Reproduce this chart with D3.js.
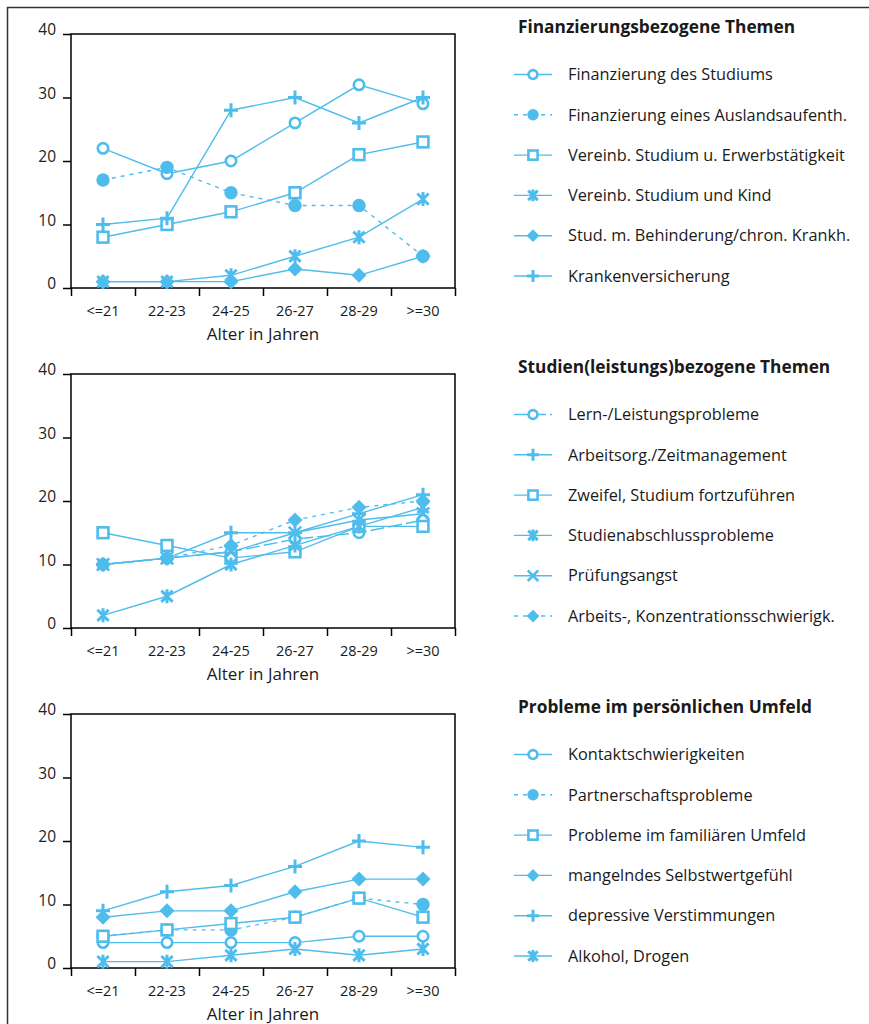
<!DOCTYPE html>
<html>
<head>
<meta charset="utf-8">
<script src="https://cdn.jsdelivr.net/npm/d3@7"></script>
<style>
  body { margin: 0; background: #fff; }
  text { font-family: "Open Sans", sans-serif; fill: #1a1a1a; }
</style>
</head>
<body>
<div id="chart"></div>
<script>
// categories and ticks
const ageGroups = ["<=21", "22-23", "24-25", "26-27", "28-29", ">=30"];
const yTicks = [0, 10, 20, 30, 40];
const xTitle = "Alter in Jahren";

// panel 1: Finanzierungsbezogene Themen
const finStudium = [22, 18, 20, 26, 32, 29];
const finAusland = [17, 19, 15, 13, 13, 5];
const vereinbErwerb = [8, 10, 12, 15, 21, 23];
const vereinbKind = [1, 1, 2, 5, 8, 14];
const behinderung = [1, 1, 1, 3, 2, 5];
const krankenvers = [10, 11, 28, 30, 26, 30];

// panel 2: Studien(leistungs)bezogene Themen
const lernProbleme = [10, 11, 12, 14, 15, 17];
const zeitmanagement = [10, 11, 15, 15, 18, 21];
const zweifel = [15, 13, 11, 12, 16, 16];
const abschluss = [2, 5, 10, 13, 16, 19];
const pruefungsangst = [10, 11, 12, 15, 17, 18];
const konzentration = [10, 11, 13, 17, 19, 20];

// panel 3: Probleme im persönlichen Umfeld
const kontakt = [4, 4, 4, 4, 5, 5];
const partnerschaft = [5, 6, 6, 8, 11, 10];
const familie = [5, 6, 7, 8, 11, 8];
const selbstwert = [8, 9, 9, 12, 14, 14];
const depressiv = [9, 12, 13, 16, 20, 19];
const alkohol = [1, 1, 2, 3, 2, 3];

const panels = [
  {title: "Finanzierungsbezogene Themen", series: [
    {name: "Finanzierung des Studiums", values: finStudium, sym: "circle", dash: null},
    {name: "Finanzierung eines Auslandsaufenth.", values: finAusland, sym: "dot", dash: "4,5"},
    {name: "Vereinb. Studium u. Erwerbstätigkeit", values: vereinbErwerb, sym: "square", dash: null},
    {name: "Vereinb. Studium und Kind", values: vereinbKind, sym: "asterisk", dash: null},
    {name: "Stud. m. Behinderung/chron. Krankh.", values: behinderung, sym: "diamond", dash: null},
    {name: "Krankenversicherung", values: krankenvers, sym: "plus", dash: null}
  ]},
  {title: "Studien(leistungs)bezogene Themen", series: [
    {name: "Lern-/Leistungsprobleme", values: lernProbleme, sym: "circle", dash: "14,4"},
    {name: "Arbeitsorg./Zeitmanagement", values: zeitmanagement, sym: "plus", dash: null},
    {name: "Zweifel, Studium fortzuführen", values: zweifel, sym: "square", dash: null},
    {name: "Studienabschlussprobleme", values: abschluss, sym: "asterisk", dash: null},
    {name: "Prüfungsangst", values: pruefungsangst, sym: "cross", dash: null},
    {name: "Arbeits-, Konzentrationsschwierigk.", values: konzentration, sym: "diamond", dash: "4,5"}
  ]},
  {title: "Probleme im persönlichen Umfeld", series: [
    {name: "Kontaktschwierigkeiten", values: kontakt, sym: "circle", dash: null},
    {name: "Partnerschaftsprobleme", values: partnerschaft, sym: "dot", dash: "4,5"},
    {name: "Probleme im familiären Umfeld", values: familie, sym: "square", dash: null},
    {name: "mangelndes Selbstwertgefühl", values: selbstwert, sym: "diamond", dash: null},
    {name: "depressive Verstimmungen", values: depressiv, sym: "plus", dash: null},
    {name: "Alkohol, Drogen", values: alkohol, sym: "asterisk", dash: null}
  ]}
];

const blue = "#4fbdec";
const W = 869, H = 1024;
const plotLeft = 71, plotW = 384, plotH = 254;
const panelTops = [34, 374, 714];

const svg = d3.select("#chart").append("svg")
  .attr("width", W).attr("height", H);

// outer frame (cropped on right/bottom)
svg.append("path")
  .attr("d", `M7.5,${H} V7.5 H${W}`)
  .attr("fill", "none").attr("stroke", "#333").attr("stroke-width", 1.5);

const x = d3.scaleBand().domain(ageGroups).range([0, plotW]);
const xEdge = d3.scaleLinear().domain([0, ageGroups.length]).range([0, plotW]);
const y = d3.scaleLinear().domain([0, 40]).range([plotH, 0]);
const cx = d => x(d) + x.bandwidth() / 2;

// draws one marker into a group positioned at the point
function marker(g, sym, k) {
  k = k || 1;
  if (sym === "circle") {
    g.append("circle").attr("r", 5.2 * k)
      .attr("fill", "#fff").attr("stroke", blue).attr("stroke-width", 2.6);
  } else if (sym === "dot") {
    g.append("circle").attr("r", 6.7 * k).attr("fill", blue);
  } else if (sym === "square") {
    const s = 5.4 * k;
    g.append("rect").attr("x", -s).attr("y", -s).attr("width", 2 * s).attr("height", 2 * s)
      .attr("fill", "#fff").attr("stroke", blue).attr("stroke-width", 2.6);
  } else if (sym === "diamond") {
    const s = 7.5 * k;
    g.append("path").attr("d", `M0,${-s}L${s},0L0,${s}L${-s},0Z`).attr("fill", blue);
  } else if (sym === "plus") {
    const s = 7 * k;
    g.append("path").attr("d", `M${-s},0H${s}M0,${-s}V${s}`)
      .attr("stroke", blue).attr("stroke-width", 3);
  } else if (sym === "asterisk") {
    const s = 7 * k, d = 5.6 * k;
    g.append("path").attr("d", `M0,${-s}V${s}M${-d},${-d}L${d},${d}M${-d},${d}L${d},${-d}`)
      .attr("stroke", blue).attr("stroke-width", 3);
  } else if (sym === "cross") {
    const d = 6.2 * k;
    g.append("path").attr("d", `M${-d},${-d}L${d},${d}M${-d},${d}L${d},${-d}`)
      .attr("stroke", blue).attr("stroke-width", 2.6);
  }
}

const line = d3.line()
  .x((v, i) => cx(ageGroups[i]))
  .y(v => y(v));

panels.forEach(function(p, pi) {
  const top = panelTops[pi];
  const g = svg.append("g").attr("transform", `translate(${plotLeft},${top})`);

  // y axis ticks + labels
  const yAxis = g.append("g")
    .call(d3.axisLeft(y).tickValues(yTicks).tickSize(8).tickPadding(7));
  yAxis.select(".domain").remove();
  yAxis.selectAll("line").attr("stroke", "#000").attr("stroke-width", 1.5);
  yAxis.selectAll("text")
    .attr("dy", "0.32em").attr("y", -4)
    .style("font-size", "15.5px").style("fill", "#222").attr("font-family", null);

  // x axis tick marks at the group boundaries
  const xAxis = g.append("g").attr("transform", `translate(0,${plotH})`)
    .call(d3.axisBottom(xEdge).tickValues(d3.range(ageGroups.length + 1)).tickSize(8).tickFormat(""));
  xAxis.select(".domain").remove();
  xAxis.selectAll("line").attr("stroke", "#000").attr("stroke-width", 1.5);

  // category labels
  g.append("g").selectAll("text")
    .data(ageGroups).join("text")
      .attr("x", d => cx(d))
      .attr("y", plotH + 23)
      .attr("dy", "0.35em")
      .attr("text-anchor", "middle")
      .style("font-size", "14.5px")
      .text(d => d);

  g.append("text")
    .attr("x", plotW / 2).attr("y", plotH + 46).attr("dy", "0.35em")
    .attr("text-anchor", "middle")
    .style("font-size", "17px")
    .text(xTitle);

  // frame
  g.append("rect")
    .attr("width", plotW).attr("height", plotH)
    .attr("fill", "none").attr("stroke", "#000").attr("stroke-width", 1.5);

  // lines
  g.selectAll(".series")
    .data(p.series).join("path")
      .attr("class", "series")
      .attr("d", d => line(d.values))
      .attr("fill", "none")
      .attr("stroke", blue)
      .attr("stroke-width", 1.4)
      .attr("stroke-dasharray", d => d.dash);

  // markers, in legend order
  p.series.forEach(function(s) {
    s.values.forEach(function(v, i) {
      const mg = g.append("g").attr("transform", `translate(${cx(ageGroups[i])},${y(v)})`);
      marker(mg, s.sym);
    });
  });

  // legend
  const lg = svg.append("g").attr("transform", `translate(0,${top})`);
  lg.append("text")
    .attr("x", 518).attr("y", -7).attr("dy", "0.35em")
    .style("font-size", "17.3px").style("font-weight", "700")
    .text(p.title);

  p.series.forEach(function(s, i) {
    const ly = 40.5 + i * 40.3;
    lg.append("line")
      .attr("x1", 514).attr("x2", 552).attr("y1", ly).attr("y2", ly)
      .attr("stroke", blue).attr("stroke-width", 1.4)
      .attr("stroke-dasharray", s.dash);
    const mg = lg.append("g").attr("transform", `translate(533,${ly})`);
    marker(mg, s.sym, 0.85);
    lg.append("text")
      .attr("x", 568).attr("y", ly).attr("dy", "0.35em")
      .style("font-size", "16.3px")
      .text(s.name);
  });
});
</script>
</body>
</html>
